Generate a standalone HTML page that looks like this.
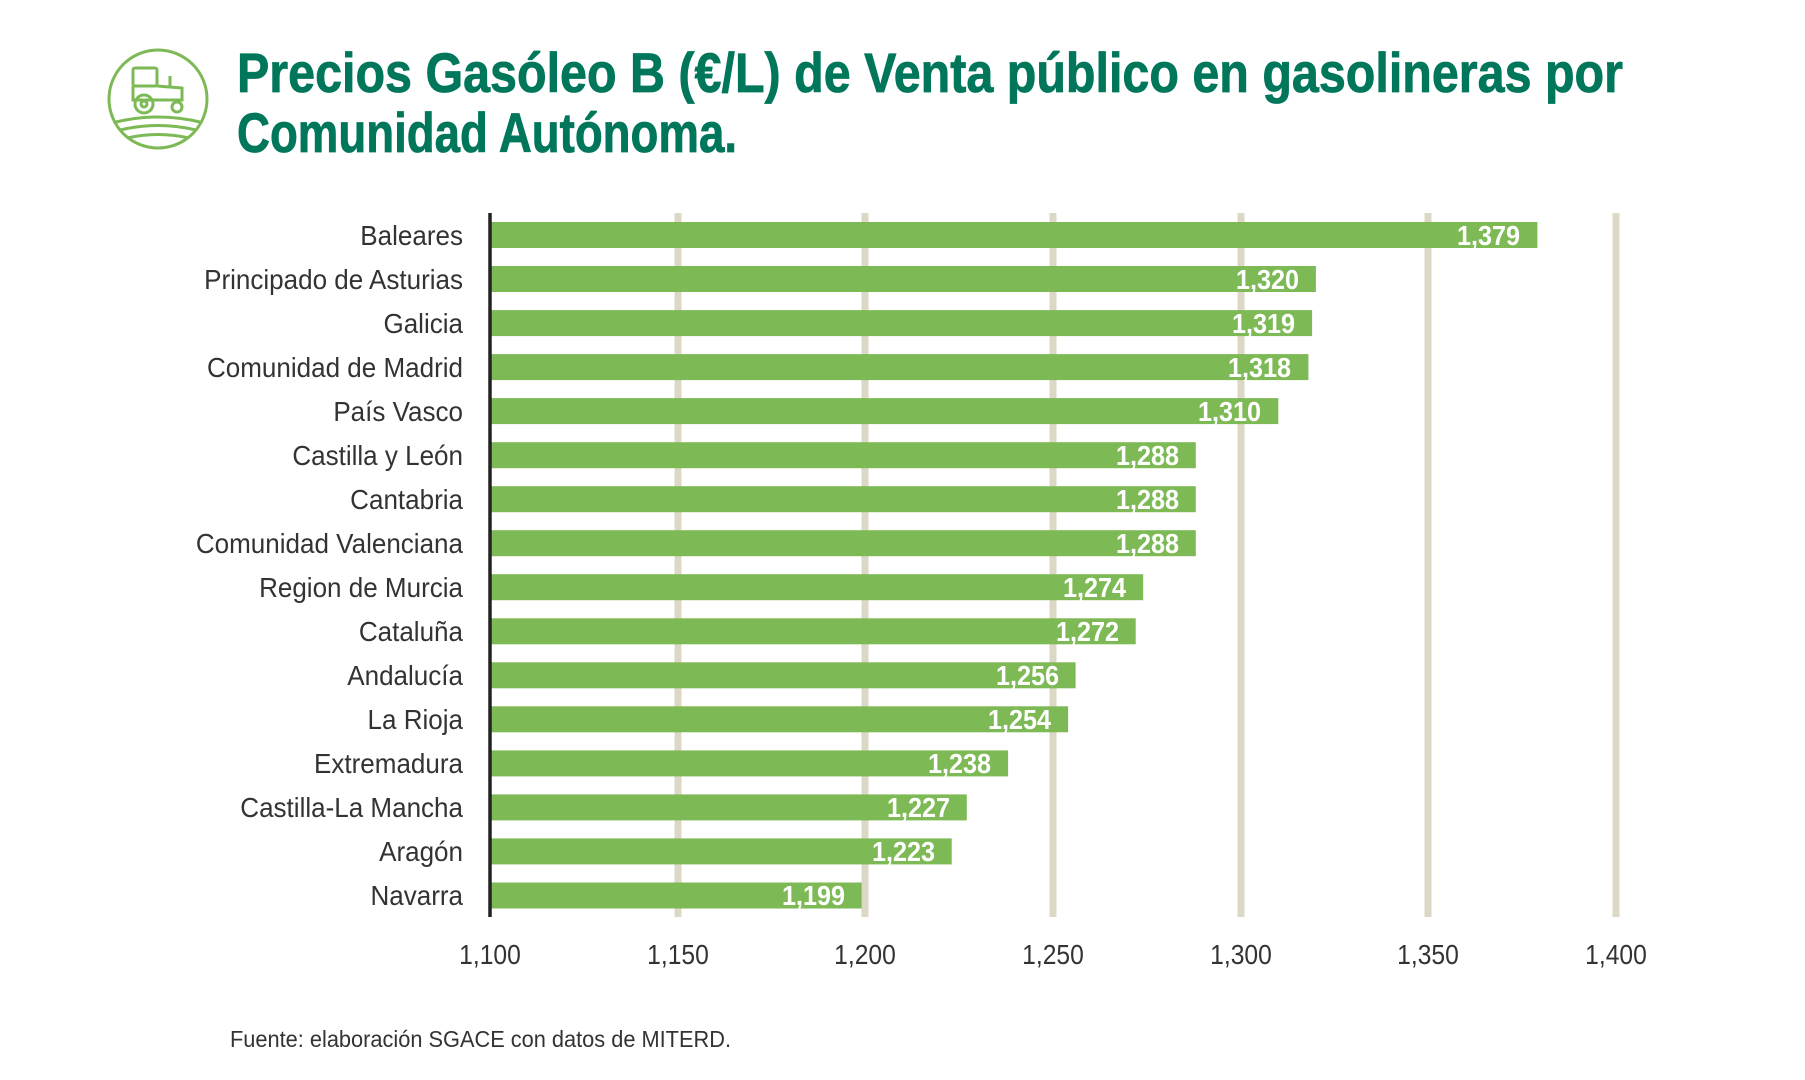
<!DOCTYPE html>
<html><head><meta charset="utf-8"><style>
html,body{margin:0;padding:0;background:#fff;}
svg{display:block;}
</style></head><body>
<svg width="1805" height="1080" viewBox="0 0 1805 1080" xmlns="http://www.w3.org/2000/svg" font-family="'Liberation Sans', sans-serif">
<rect width="1805" height="1080" fill="#fff"/>
<g fill="none" stroke="#7dba55" stroke-width="3">
<circle cx="158" cy="99" r="49"/>
<path d="M116 122 Q158 112 200 122"/>
<path d="M120 130 Q158 121 196 130"/>
<path d="M127 138 Q158 131 189 138"/>
<rect x="133" y="68" width="24" height="18" rx="2"/>
<path d="M133 86 L133 100 L182 100 L182 88 L157 86"/>
<circle cx="144" cy="104" r="9"/>
<circle cx="144" cy="104" r="3"/>
<circle cx="177" cy="107" r="5"/>
<line x1="170" y1="86" x2="170" y2="76"/>
</g>
<g fill="#00775a" font-weight="bold" font-size="56" stroke="#00775a" stroke-width="0.8">
<text x="237" y="92" textLength="1386" lengthAdjust="spacingAndGlyphs">Precios Gasóleo B (€/L) de Venta público en gasolineras por</text>
<text x="237" y="152" textLength="500" lengthAdjust="spacingAndGlyphs">Comunidad Autónoma.</text>
</g>
<g stroke="#ddd7c5" stroke-width="7">
<line x1="678" y1="213" x2="678" y2="917"/>
<line x1="865" y1="213" x2="865" y2="917"/>
<line x1="1053" y1="213" x2="1053" y2="917"/>
<line x1="1241" y1="213" x2="1241" y2="917"/>
<line x1="1428" y1="213" x2="1428" y2="917"/>
<line x1="1616" y1="213" x2="1616" y2="917"/>
</g>
<g fill="#7dba55">
<rect x="490" y="222" width="1047.4" height="26"/>
<rect x="490" y="266" width="825.9" height="26"/>
<rect x="490" y="310.1" width="822.1" height="26"/>
<rect x="490" y="354.1" width="818.4" height="26"/>
<rect x="490" y="398.1" width="788.3" height="26"/>
<rect x="490" y="442.2" width="705.8" height="26"/>
<rect x="490" y="486.2" width="705.8" height="26"/>
<rect x="490" y="530.2" width="705.8" height="26"/>
<rect x="490" y="574.2" width="653.2" height="26"/>
<rect x="490" y="618.3" width="645.7" height="26"/>
<rect x="490" y="662.3" width="585.6" height="26"/>
<rect x="490" y="706.3" width="578.1" height="26"/>
<rect x="490" y="750.4" width="518.1" height="26"/>
<rect x="490" y="794.4" width="476.8" height="26"/>
<rect x="490" y="838.4" width="461.7" height="26"/>
<rect x="490" y="882.5" width="371.6" height="26"/>
</g>
<line x1="490" y1="213" x2="490" y2="917" stroke="#222" stroke-width="3.5"/>
<g font-size="28" fill="#333" text-anchor="end">
<text transform="translate(463,245) scale(0.93,1)">Baleares</text>
<text transform="translate(463,289) scale(0.93,1)">Principado de Asturias</text>
<text transform="translate(463,333) scale(0.93,1)">Galicia</text>
<text transform="translate(463,377) scale(0.93,1)">Comunidad de Madrid</text>
<text transform="translate(463,421) scale(0.93,1)">País Vasco</text>
<text transform="translate(463,465) scale(0.93,1)">Castilla y León</text>
<text transform="translate(463,509) scale(0.93,1)">Cantabria</text>
<text transform="translate(463,553) scale(0.93,1)">Comunidad Valenciana</text>
<text transform="translate(463,597) scale(0.93,1)">Region de Murcia</text>
<text transform="translate(463,641) scale(0.93,1)">Cataluña</text>
<text transform="translate(463,685) scale(0.93,1)">Andalucía</text>
<text transform="translate(463,729) scale(0.93,1)">La Rioja</text>
<text transform="translate(463,773) scale(0.93,1)">Extremadura</text>
<text transform="translate(463,817) scale(0.93,1)">Castilla-La Mancha</text>
<text transform="translate(463,861) scale(0.93,1)">Aragón</text>
<text transform="translate(463,905) scale(0.93,1)">Navarra</text>
</g>
<g font-size="28" font-weight="bold" fill="#fff" text-anchor="end">
<text transform="translate(1520,245) scale(0.9,1)">1,379</text>
<text transform="translate(1299,289) scale(0.9,1)">1,320</text>
<text transform="translate(1295,333) scale(0.9,1)">1,319</text>
<text transform="translate(1291,377) scale(0.9,1)">1,318</text>
<text transform="translate(1261,421) scale(0.9,1)">1,310</text>
<text transform="translate(1179,465) scale(0.9,1)">1,288</text>
<text transform="translate(1179,509) scale(0.9,1)">1,288</text>
<text transform="translate(1179,553) scale(0.9,1)">1,288</text>
<text transform="translate(1126,597) scale(0.9,1)">1,274</text>
<text transform="translate(1119,641) scale(0.9,1)">1,272</text>
<text transform="translate(1059,685) scale(0.9,1)">1,256</text>
<text transform="translate(1051,729) scale(0.9,1)">1,254</text>
<text transform="translate(991,773) scale(0.9,1)">1,238</text>
<text transform="translate(950,817) scale(0.9,1)">1,227</text>
<text transform="translate(935,861) scale(0.9,1)">1,223</text>
<text transform="translate(845,905) scale(0.9,1)">1,199</text>
</g>
<g font-size="28" fill="#333" text-anchor="middle">
<text transform="translate(490,964) scale(0.88,1)">1,100</text>
<text transform="translate(678,964) scale(0.88,1)">1,150</text>
<text transform="translate(865,964) scale(0.88,1)">1,200</text>
<text transform="translate(1053,964) scale(0.88,1)">1,250</text>
<text transform="translate(1241,964) scale(0.88,1)">1,300</text>
<text transform="translate(1428,964) scale(0.88,1)">1,350</text>
<text transform="translate(1616,964) scale(0.88,1)">1,400</text>
</g>
<text x="230" y="1047" font-size="23" fill="#333" textLength="501" lengthAdjust="spacingAndGlyphs">Fuente: elaboración SGACE con datos de MITERD.</text>
</svg>
</body></html>
